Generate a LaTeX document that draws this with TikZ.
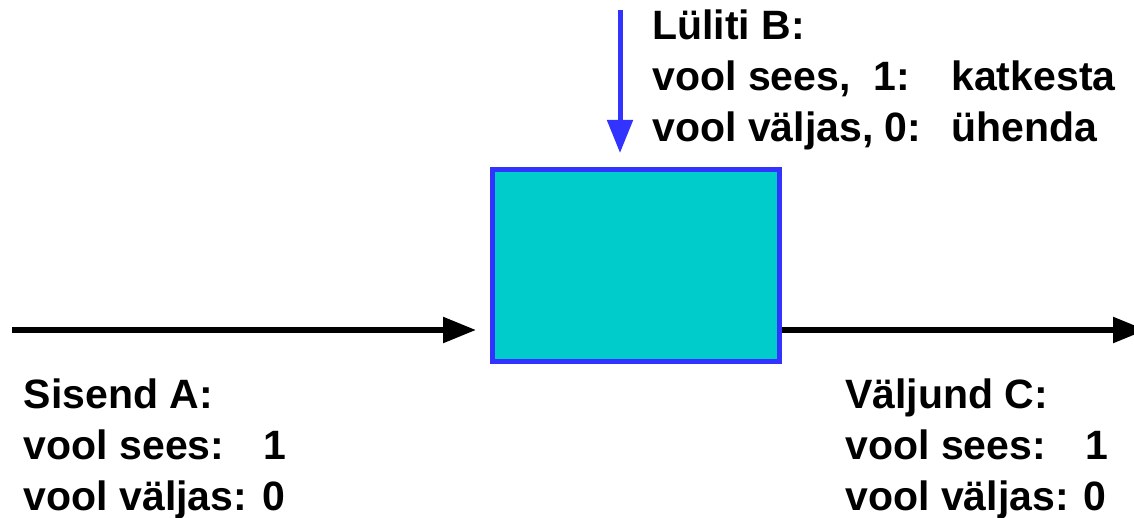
\documentclass[tikz,border=0pt]{standalone}
\usepackage{fontspec}
\setmainfont{Liberation Sans}
\usetikzlibrary{positioning,arrows.meta}
\definecolor{switchblue}{RGB}{51,51,255}
\definecolor{switchcyan}{RGB}{0,204,204}
\tikzset{
  switchbox/.style={draw=switchblue, fill=switchcyan, line width=2.5pt,
    minimum width=143.5pt, minimum height=96pt, inner sep=0pt},
  flow/.style={line width=2.75pt, -{Triangle[length=16.5pt,width=12.5pt]}},
  labeltext/.style={align=left, inner sep=0pt, anchor=base west}
}
\begin{document}
\begin{tikzpicture}[x=0.5pt, y=-0.5pt, font=\bfseries\fontsize{20.5}{25.5}\selectfont]
	\useasboundingbox (0,0) rectangle (1134,518);

	% Draw the switch box
	\node[switchbox] (box) at (636,265.5) {};

	% Draw input, output and switch connectors
	\coordinate (inA) at (12,330);
	\coordinate (outC) at (1146,330);
	\coordinate (inB) at (620,10);
	\draw[flow, shorten >=7pt] (inA) -- (inA -| box.west);
	\draw[flow] (box.east |- outC) -- (outC);
	\draw[flow, switchblue, line width=2.5pt, shorten >=7pt] (inB) -- (inB |- box.north);

	% Labels (anchored at the baseline of the last line)
	\node[labeltext] (labelB) at (652,142)
		{L\"uliti B:\\
		 \makebox[149.5pt][l]{vool sees,\ \ 1:}katkesta\\
		 \makebox[149.5pt][l]{vool v\"aljas, 0:}\"uhenda};
	\node[labeltext] (labelA) at (23.5,510)
		{Sisend A:\\
		 \makebox[120pt][l]{vool sees:}1\\
		 vool v\"aljas: 0};
	\node[labeltext] (labelC) at (845,510)
		{V\"aljund C:\\
		 \makebox[120pt][l]{vool sees:}1\\
		 vool v\"aljas: 0};
\end{tikzpicture}
\end{document}
